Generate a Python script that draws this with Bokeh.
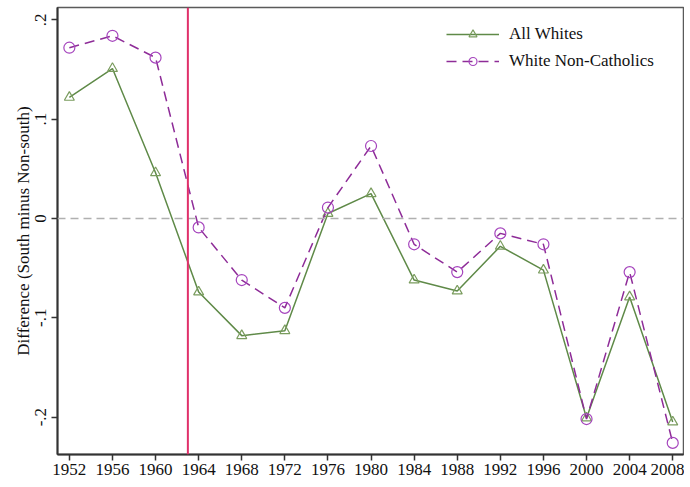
from bokeh.plotting import figure
from bokeh.models import Span, Legend, LegendItem, FixedTicker, Range1d
from bokeh.embed import file_html
from bokeh.resources import INLINE

years = [1952, 1956, 1960, 1964, 1968, 1972, 1976, 1980, 1984, 1988, 1992, 1996, 2000, 2004, 2008]
all_whites = [0.122, 0.151, 0.046, -0.074, -0.118, -0.113, 0.005, 0.025, -0.062, -0.073, -0.028, -0.052, -0.201, -0.079, -0.205]
non_catholics = [0.172, 0.184, 0.162, -0.009, -0.062, -0.090, 0.011, 0.073, -0.026, -0.054, -0.015, -0.026, -0.202, -0.054, -0.226]
y_ticks = [-0.2, -0.1, 0.0, 0.1, 0.2]
y_tick_labels = ["-.2", "-.1", "0", ".1", ".2"]
event_year = 1963
series_names = ["All Whites", "White Non-Catholics"]
y_title = "Difference (South minus Non-south)"

FONT = "Liberation Serif"
GREEN = "#5f8a48"
GREEN_M = "#7a9c5e"
PURPLE = "#8e2c98"
PURPLE_M = "#a544bd"

p = figure(width=684, height=480, output_backend="svg", toolbar_location=None,
           x_range=Range1d(1950.9, 2009.0), y_range=Range1d(-0.2377, 0.2125),
           min_border_left=57, min_border_top=7, min_border_right=1, min_border_bottom=26)
p.grid.visible = False
p.background_fill_color = "white"
p.outline_line_color = "#5a5a5a"
p.outline_line_width = 1.5

zero = Span(location=0, dimension="width", line_color="#b0b0b0", line_width=1.5, line_dash="8 5")
p.add_layout(zero)
vline = Span(location=event_year, dimension="height", line_color="#e0306a", line_width=2)
p.add_layout(vline)

l1 = p.line(years, all_whites, line_color=GREEN, line_width=1.5)
s1 = p.scatter(years, all_whites, marker="triangle", size=10, line_color=GREEN_M,
               fill_color=None, line_width=1.2)
l2 = p.line(years, non_catholics, line_color=PURPLE, line_width=1.5, line_dash="10 6")
s2 = p.scatter(years, non_catholics, marker="circle", size=11, line_color=PURPLE_M,
               fill_color=None, line_width=1.2)

legend = Legend(items=[LegendItem(label=series_names[0], renderers=[l1, s1]),
                       LegendItem(label=series_names[1], renderers=[l2, s2])],
                location="top_right", border_line_color=None, background_fill_alpha=0,
                label_text_font=FONT, label_text_font_size="17px", label_text_color="#111",
                glyph_width=53, glyph_height=20, spacing=7, margin=17, padding=6,
                label_standoff=10, label_width=157)
p.add_layout(legend)

p.xaxis.ticker = FixedTicker(ticks=years)
p.yaxis.ticker = FixedTicker(ticks=y_ticks)
p.yaxis.major_label_overrides = {t: lab for t, lab in zip(y_ticks, y_tick_labels)}
p.yaxis.major_label_orientation = "vertical"
p.yaxis.axis_label = y_title
for ax in (p.xaxis[0], p.yaxis[0]):
    ax.axis_line_color = "#333333"
    ax.axis_line_width = 2
    ax.major_tick_line_color = "#333333"
    ax.major_tick_line_width = 1.5
    ax.major_tick_out = 6
    ax.major_tick_in = 0
    ax.minor_tick_line_color = None
    ax.major_label_text_font = FONT
    ax.major_label_text_font_size = "17px"
    ax.major_label_text_color = "#111"
    ax.major_label_standoff = 3
p.yaxis.major_label_standoff = 5
p.yaxis.axis_label_text_font = FONT
p.yaxis.axis_label_text_font_size = "17px"
p.yaxis.axis_label_text_font_style = "normal"
p.yaxis.axis_label_text_color = "#111"
p.yaxis.axis_label_standoff = 0

open("out.html", "w").write(file_html(p, INLINE))
